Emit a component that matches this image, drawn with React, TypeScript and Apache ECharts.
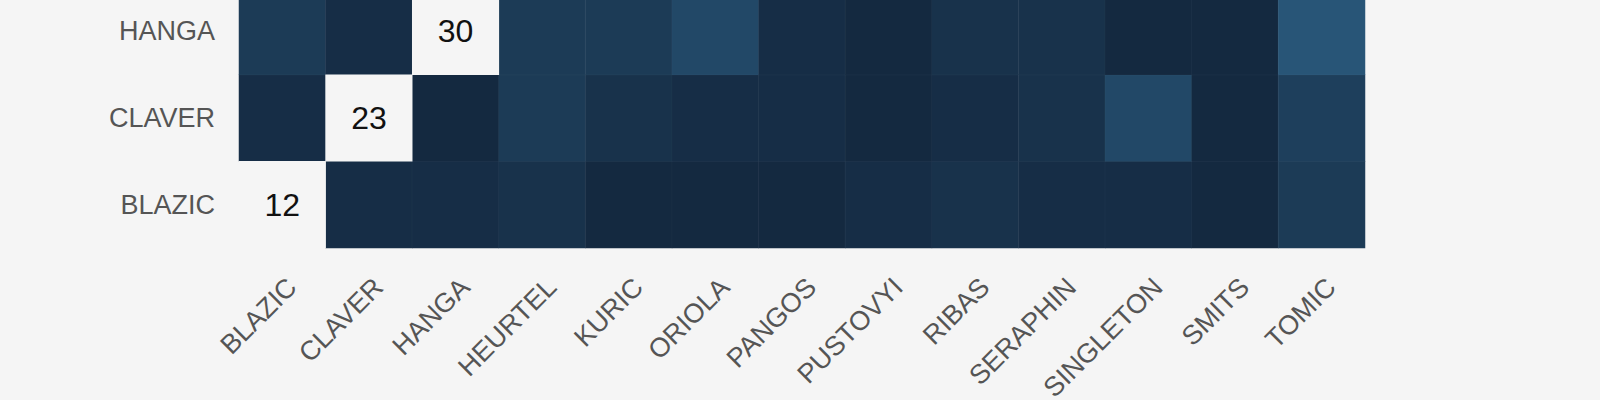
import React, { useEffect, useRef } from 'react';
import * as echarts from 'echarts';

// columns and the visible rows (the upper rows are cut off in the reference)
const players = [
  'BLAZIC', 'CLAVER', 'HANGA', 'HEURTEL', 'KURIC', 'ORIOLA', 'PANGOS',
  'PUSTOVYI', 'RIBAS', 'SERAPHIN', 'SINGLETON', 'SMITS', 'TOMIC',
];
const rowPlayers = ['BLAZIC', 'CLAVER', 'HANGA'];

// diagonal values (shown as labels)
const diagValues = [12, 23, 30];

// off-diagonal intensities, one array per row (null = diagonal cell)
const blazicRow = [null, 1, 1, 2, 0, 0, 0, 1, 2, 1, 1, 0, 4];
const claverRow = [1, null, 0, 4, 2, 1, 1, 0, 1, 2, 7, 0, 5];
const hangaRow = [4, 1, null, 4, 4, 7, 1, 0, 2, 2, 0, 0, 10];
const rows = [blazicRow, claverRow, hangaRow];

const App: React.FC = () => {
  const chartRef = useRef<HTMLDivElement>(null);

  useEffect(() => {
    if (!chartRef.current) return;
    document.body.style.margin = '0';
    document.body.style.background = '#f5f5f5';

    const chart = echarts.init(chartRef.current, undefined, { renderer: 'svg' });

    const cells: Array<[number, number, number]> = [];
    rows.forEach((row, y) => {
      row.forEach((v, x) => {
        if (v !== null) cells.push([x, y, v]);
      });
    });
    const diag = diagValues.map((v, i) => [i, i, v]);

    const labelFont = {
      color: '#555555',
      fontSize: 27,
      fontFamily: 'Liberation Sans, Arial, sans-serif',
    };

    const option: echarts.EChartsOption = {
      animation: false,
      backgroundColor: '#f5f5f5',
      // the top row is partly cut off: the chart div starts 12px above the page
      grid: { left: 239, right: 235, top: 0, bottom: 152, outerBoundsMode: 'none' } as any,
      xAxis: {
        type: 'category',
        data: players,
        axisLine: { show: false },
        axisTick: { show: false },
        splitArea: { show: false },
        axisLabel: {
          ...labelFont,
          rotate: 45,
          margin: 25,
          interval: 0,
          verticalAlign: 'top',
        },
      },
      yAxis: {
        type: 'category',
        data: rowPlayers,
        axisLine: { show: false },
        axisTick: { show: false },
        splitArea: { show: false },
        axisLabel: { ...labelFont, margin: 24 },
      },
      visualMap: [
        {
          show: false,
          seriesIndex: 0,
          min: 0,
          max: 10,
          inRange: { color: ['#142940', '#285577'] },
        },
        {
          show: false,
          seriesIndex: 1,
          min: 0,
          max: 100,
          inRange: { color: ['#f5f5f5', '#f5f5f5'] },
        },
      ],
      series: [
        {
          type: 'heatmap',
          data: cells,
          itemStyle: { borderColor: 'rgba(255,255,255,0.03)', borderWidth: 1 },
          label: { show: false },
        },
        {
          type: 'heatmap',
          data: diag,
          label: {
            show: true,
            color: '#111111',
            fontSize: 32,
            fontFamily: 'Liberation Sans, Arial, sans-serif',
          },
        },
      ],
    };

    chart.setOption(option);

    const handleResize = () => chart.resize();
    window.addEventListener('resize', handleResize);
    return () => {
      window.removeEventListener('resize', handleResize);
      chart.dispose();
    };
  }, []);

  return (
    <div style={{ width: '1600px', height: '400px', overflow: 'hidden', position: 'relative' }}>
      <div
        ref={chartRef}
        style={{ position: 'absolute', left: 0, top: '-12px', width: '1600px', height: '412px' }}
      />
    </div>
  );
};

export default App;
